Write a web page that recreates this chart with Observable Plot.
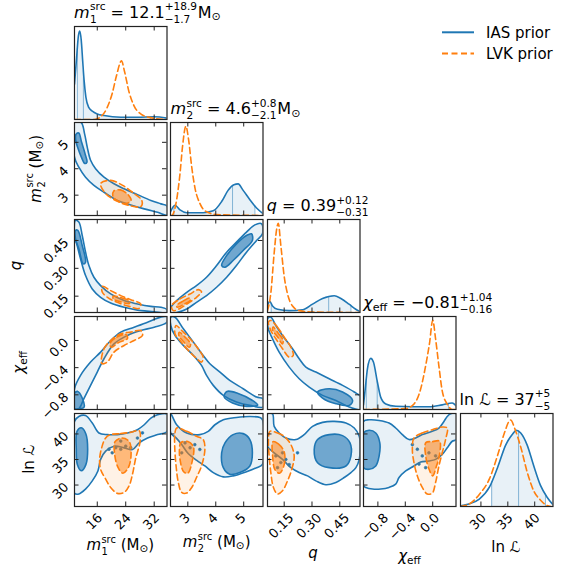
<!DOCTYPE html>
<html><head><meta charset="utf-8">
<script src="https://cdn.jsdelivr.net/npm/d3@7"></script>
<script src="https://cdn.jsdelivr.net/npm/@observablehq/plot@0.6"></script>
<style>
body{margin:0;background:#fff;}
#chart{position:relative;width:570px;height:571px;font-family:"DejaVu Sans",sans-serif;overflow:hidden;}
#chart svg{position:absolute;overflow:visible;background:transparent;}
</style></head><body><div id="chart"></div>
<script>
// ---------------- data ----------------
const params = ["m1", "m2", "q", "chi", "lnL"];
const xDomains = [[9.6, 35.6], [2.38, 5.69], [0.06, 0.559], [-1.01, 0.34], [26.2, 43.4]];
const yDomains = [null, [2.23, 5.75], [0.062, 0.563], [-1.016, 0.353], [25.8, 44.0]];
const tickValues = [[16, 24, 32], [3, 4, 5], [0.15, 0.30, 0.45], [-0.8, -0.4, 0.0], [30, 35, 40]];
const tickLabels = [["16", "24", "32"], ["3", "4", "5"], ["0.15", "0.30", "0.45"], ["−0.8", "−0.4", "0.0"], ["30", "35", "40"]];
const medians = ["12.1", "4.6", "0.39", "−0.81", "37"];
const errPlus = ["+18.9", "+0.8", "+0.12", "+1.04", "+5"];
const errMinus = ["−1.7", "−2.1", "−0.31", "−0.16", "−5"];
const quantiles = [[10.4, 12.1, 31.0], [2.5, 4.6, 5.4], [0.08, 0.39, 0.51], [-0.97, -0.81, 0.23], [32, 37, 42]];
const seriesNames = ["IAS prior", "LVK prior"];

// 1D marginal densities (relative height)
const m1Blue = [[9.6,0.38],[10.2,0.67],[10.7,0.90],[11.1,0.95],[11.5,0.85],[11.9,0.63],[12.3,0.42],[12.8,0.24],[13.6,0.13],[14.6,0.09],[16.0,0.06],[17.9,0.043],[22.6,0.025],[27.3,0.025],[32.0,0.03],[35.6,0.015]];
const m1Orange = [[9.6,0.0],[15.1,0.0],[17.0,0.03],[18.8,0.13],[20.2,0.28],[21.4,0.47],[22.8,0.63],[23.7,0.51],[24.9,0.30],[26.3,0.15],[28.2,0.06],[31.0,0.02],[35.6,0.0]];
const m2Blue = [[2.38,0.04],[2.54,0.11],[2.72,0.06],[2.96,0.03],[3.55,0.03],[3.91,0.05],[4.21,0.15],[4.44,0.27],[4.65,0.33],[4.80,0.34],[4.98,0.27],[5.22,0.17],[5.46,0.08],[5.69,0.02]];
const m2Orange = [[2.38,0.0],[2.42,0.0],[2.6,0.17],[2.72,0.45],[2.81,0.74],[2.93,0.96],[3.03,0.81],[3.14,0.52],[3.26,0.29],[3.43,0.13],[3.67,0.04],[4.03,0.01],[5.69,0.0]];
const qBlue = [[0.06,0.07],[0.072,0.12],[0.087,0.07],[0.114,0.035],[0.177,0.02],[0.249,0.03],[0.303,0.09],[0.357,0.15],[0.42,0.18],[0.456,0.15],[0.50,0.09],[0.536,0.035],[0.559,0.01]];
const qOrange = [[0.06,0.02],[0.078,0.21],[0.096,0.64],[0.109,0.89],[0.118,0.96],[0.132,0.72],[0.15,0.39],[0.168,0.20],[0.195,0.07],[0.231,0.02],[0.30,0.005],[0.559,0.0]];
const chiBlue = [[-1.01,0.05],[-0.985,0.22],[-0.952,0.44],[-0.904,0.55],[-0.865,0.51],[-0.806,0.29],[-0.758,0.13],[-0.685,0.06],[-0.54,0.035],[-0.297,0.03],[-0.054,0.03],[0.139,0.05],[0.285,0.07],[0.34,0.04]];
const chiOrange = [[-1.01,0.0],[-0.395,0.01],[-0.272,0.06],[-0.176,0.22],[-0.103,0.47],[-0.045,0.72],[0.0,0.96],[0.042,0.76],[0.09,0.47],[0.139,0.20],[0.21,0.06],[0.285,0.0],[0.34,0.0]];
const lnLBlue = [[26.2,0.005],[26.48,0.01],[27.9,0.03],[29.7,0.08],[31.6,0.21],[33.1,0.42],[34.6,0.66],[35.9,0.78],[36.6,0.82],[37.4,0.79],[38.6,0.66],[39.8,0.44],[41.05,0.23],[42.3,0.10],[43.4,0.02]];
const lnLOrange = [[26.2,0.0],[27.9,0.03],[29.7,0.13],[31.6,0.30],[33.1,0.55],[34.3,0.78],[35.5,0.93],[36.4,0.82],[37.4,0.64],[38.6,0.37],[39.8,0.17],[41.05,0.07],[42.3,0.01],[43.0,0.0]];

// 2D credible contours (outer = 90%, inner = 50%), [x, y] in data units
const ias_m2_m1_outer = [[9.6,5.75],[11.48,5.75],[12.42,5.33],[13.18,4.82],[14.12,4.32],[15.53,4.0],[17.89,3.68],[20.71,3.43],[23.54,3.24],[27.3,3.02],[31.07,2.80],[33.9,2.67],[35.6,2.59],[35.6,2.25],[32.95,2.35],[29.19,2.48],[25.42,2.63],[21.65,2.80],[17.89,3.11],[15.06,3.37],[12.71,3.68],[10.82,4.06],[9.6,4.44]];
const ias_m2_m1_inner = [[10.0,5.3],[10.8,5.35],[11.6,5.0],[12.6,4.55],[13.1,4.25],[12.5,4.2],[11.5,4.45],[10.5,4.8],[9.9,5.1]];
const lvk_m2_m1_outer = [[16.94,3.44],[19.77,3.56],[23.16,3.37],[25.98,3.10],[28.53,2.80],[28.24,2.57],[24.85,2.61],[21.18,2.80],[18.36,3.06]];
const lvk_m2_m1_inner = [[20.6,3.15],[22.5,3.2],[24.8,3.0],[25.5,2.8],[24.0,2.68],[21.5,2.8],[20.4,2.95]];

const ias_q_m1_outer = [[9.88,0.558],[10.82,0.549],[11.77,0.477],[12.71,0.387],[13.65,0.315],[15.06,0.252],[16.94,0.207],[19.77,0.162],[23.54,0.126],[27.3,0.108],[31.07,0.095],[33.9,0.09],[35.6,0.077],[35.6,0.063],[32.0,0.066],[27.3,0.075],[23.54,0.09],[19.77,0.113],[16.94,0.144],[14.59,0.189],[12.71,0.261],[11.3,0.351],[10.35,0.423],[9.6,0.477]];
const ias_q_m1_inner = [[9.88,0.504],[10.54,0.504],[11.77,0.423],[12.71,0.333],[12.05,0.324],[10.82,0.405],[9.88,0.459]];
const lvk_q_m1_outer = [[17.42,0.203],[19.77,0.18],[22.59,0.153],[25.42,0.131],[28.24,0.108],[27.77,0.084],[24.95,0.095],[22.12,0.113],[19.3,0.138],[17.42,0.171]];
const lvk_q_m1_inner = [[20.5,0.15],[23.0,0.14],[25.0,0.125],[25.0,0.11],[22.5,0.12],[20.5,0.135]];

const ias_q_m2_outer = [[2.36,0.081],[2.6,0.126],[2.96,0.171],[3.31,0.207],[3.67,0.252],[4.03,0.315],[4.39,0.387],[4.74,0.441],[5.1,0.495],[5.4,0.534],[5.64,0.54],[5.67,0.486],[5.46,0.45],[5.1,0.387],[4.74,0.315],[4.39,0.252],[4.03,0.198],[3.67,0.153],[3.31,0.117],[2.96,0.081],[2.6,0.062],[2.38,0.062]];
const ias_q_m2_inner = [[4.21,0.315],[4.39,0.369],[4.74,0.432],[5.1,0.477],[5.28,0.486],[5.31,0.45],[4.98,0.396],[4.62,0.342],[4.33,0.306]];
const lvk_q_m2_outer = [[2.42,0.099],[2.72,0.135],[3.08,0.162],[3.37,0.185],[3.49,0.174],[3.31,0.144],[3.02,0.113],[2.72,0.084],[2.48,0.072]];
const lvk_q_m2_inner = [[2.6,0.1],[2.85,0.125],[3.05,0.14],[3.1,0.13],[2.85,0.105],[2.62,0.09]];

const ias_chi_m1_outer = [[9.6,-0.71],[11.3,-0.514],[14.12,-0.318],[16.94,-0.171],[19.77,0.0],[22.59,0.123],[26.36,0.196],[30.13,0.27],[32.95,0.329],[34.84,0.353],[35.6,0.353],[35.6,0.27],[32.0,0.196],[28.24,0.147],[24.48,0.074],[20.71,-0.049],[17.89,-0.269],[16.0,-0.465],[14.12,-0.661],[12.24,-0.857],[10.82,-1.004],[9.6,-1.004]];
const ias_chi_m1_inner = [[9.6,-0.78],[10.5,-0.75],[11.8,-0.85],[12.3,-0.98],[11.0,-1.004],[9.6,-1.004]];
const lvk_chi_m1_outer = [[17.13,-0.318],[17.89,-0.122],[19.77,0.0],[22.59,0.098],[25.42,0.123],[28.24,0.147],[28.71,0.074],[26.36,0.0],[23.54,-0.073],[20.71,-0.171],[18.83,-0.318],[17.42,-0.343]];
const lvk_chi_m1_inner = [[19.5,-0.05],[21.5,0.05],[24,0.09],[24.5,0.03],[22,-0.03],[20,-0.1]];

const ias_chi_m2_outer = [[2.39,0.343],[2.54,0.343],[2.84,0.172],[3.2,-0.024],[3.55,-0.22],[3.79,-0.343],[4.15,-0.465],[4.5,-0.588],[4.98,-0.71],[5.46,-0.833],[5.69,-0.857],[5.69,-0.98],[5.22,-0.955],[4.74,-0.906],[4.27,-0.808],[3.91,-0.661],[3.67,-0.514],[3.49,-0.367],[3.2,-0.22],[2.84,-0.073],[2.54,0.074],[2.39,0.221]];
const ias_chi_m2_inner = [[4.4,-0.75],[4.8,-0.78],[5.3,-0.88],[5.5,-0.95],[5.1,-0.97],[4.6,-0.92],[4.3,-0.83]];
const lvk_chi_m2_outer = [[2.58,0.221],[2.78,0.147],[3.08,0.025],[3.37,-0.122],[3.55,-0.245],[3.49,-0.318],[3.26,-0.245],[2.96,-0.122],[2.72,0.0],[2.54,0.098]];
const lvk_chi_m2_inner = [[2.7,0.12],[2.9,0.05],[3.1,-0.05],[3.05,-0.1],[2.85,-0.02],[2.68,0.07]];

const ias_chi_q_outer = [[0.078,0.343],[0.105,0.221],[0.141,0.074],[0.195,-0.122],[0.231,-0.269],[0.267,-0.392],[0.321,-0.465],[0.393,-0.563],[0.465,-0.661],[0.528,-0.759],[0.564,-0.833],[0.564,-1.014],[0.501,-0.98],[0.429,-0.882],[0.357,-0.808],[0.285,-0.686],[0.231,-0.563],[0.177,-0.392],[0.123,-0.171],[0.087,0.025],[0.064,0.172],[0.06,0.319]];
const ias_chi_q_inner = [[0.33,-0.759],[0.393,-0.71],[0.465,-0.759],[0.519,-0.882],[0.501,-0.955],[0.429,-0.931],[0.357,-0.847]];
const lvk_chi_q_outer = [[0.078,0.294],[0.114,0.196],[0.15,0.049],[0.186,-0.098],[0.199,-0.22],[0.177,-0.245],[0.141,-0.122],[0.105,0.025],[0.078,0.147],[0.065,0.27]];
const lvk_chi_q_inner = [[0.09,0.2],[0.12,0.1],[0.145,0.0],[0.14,-0.05],[0.115,0.05],[0.088,0.15]];

const ias_lnL_m1_outer = [[9.6,42.45],[10.82,43.42],[12.7,43.6],[14.6,42.12],[16.47,40.18],[18.83,39.87],[21.65,39.87],[24.48,40.18],[27.3,40.83],[29.2,41.8],[31.07,43.1],[32.95,43.74],[35.6,43.87],[35.6,40.5],[32.95,39.87],[30.13,39.22],[27.77,38.25],[25.9,36.96],[23.54,37.28],[20.71,37.6],[18.36,36.64],[16.94,35.02],[16.18,32.76],[14.6,30.82],[12.7,29.21],[10.82,28.24],[9.6,28.4]];
const ias_lnL_m1_inner = [[10.3,40.5],[11.5,41.2],[12.8,40],[13.3,37],[12.8,34],[11.5,32.8],[10.4,34],[10.1,37]];
const lvk_lnL_m1_outer = [[19.77,39.87],[22.59,40.06],[25.42,40.32],[27.77,40.64],[28.05,38.57],[26.83,35.34],[25.9,32.12],[24.95,29.85],[23.54,28.56],[21.65,28.37],[19.77,29.53],[18.36,31.15],[16.94,33.08],[16.66,35.02],[17.23,37.28],[18.36,39.22]];
const lvk_lnL_m1_inner = [[21,38.5],[23,39.2],[25,38.5],[25.5,36],[24.8,33.5],[23.2,32.3],[21.8,33.5],[20.9,36]];

const ias_lnL_m2_outer = [[2.39,43.87],[2.6,41.8],[2.96,40.18],[3.43,39.87],[3.73,40.51],[3.97,41.8],[4.27,42.77],[4.74,43.22],[5.22,43.42],[5.58,43.22],[5.67,42.77],[5.67,34.06],[5.46,33.4],[5.1,32.62],[4.62,31.79],[4.27,31.6],[3.91,32.43],[3.61,33.73],[3.32,34.83],[3.02,36.11],[2.78,37.93],[2.58,39.22],[2.39,40.18]];
const ias_lnL_m2_inner = [[4.21,36.31],[4.33,38.25],[4.62,39.87],[4.98,40.06],[5.22,38.9],[5.31,36.31],[5.22,33.73],[4.86,32.44],[4.5,32.11],[4.27,33.4]];
const lvk_lnL_m2_outer = [[2.6,41.16],[2.96,40.51],[3.31,39.54],[3.55,38.9],[3.61,36.96],[3.49,33.73],[3.31,31.47],[3.14,29.53],[2.96,28.43],[2.78,28.56],[2.66,30.5],[2.58,33.73],[2.53,37.6],[2.54,40.19]];
const lvk_lnL_m2_inner = [[2.75,38.3],[3.0,38.5],[3.2,37.5],[3.15,34.5],[3.0,32.3],[2.85,32.6],[2.72,35],[2.7,37]];

const ias_lnL_q_outer = [[0.06,43.94],[0.087,43.94],[0.096,41.48],[0.123,40.19],[0.159,39.22],[0.213,38.9],[0.258,39.87],[0.303,41.48],[0.357,42.26],[0.42,42.45],[0.483,42.13],[0.528,41.16],[0.555,39.54],[0.56,36.96],[0.555,35.02],[0.537,33.4],[0.51,32.44],[0.474,31.47],[0.429,30.5],[0.375,30.05],[0.321,30.82],[0.276,31.79],[0.231,32.44],[0.186,33.4],[0.141,35.02],[0.096,36.31],[0.06,37.6]];
const ias_lnL_q_inner = [[0.312,36.96],[0.33,38.9],[0.393,39.87],[0.465,39.67],[0.505,38.25],[0.51,35.67],[0.483,33.73],[0.393,33.4],[0.33,34.37]];
const lvk_lnL_q_outer = [[0.073,40.51],[0.114,40.19],[0.15,39.54],[0.186,37.93],[0.204,35.67],[0.191,33.08],[0.168,30.82],[0.141,28.88],[0.114,28.24],[0.092,29.53],[0.078,32.44],[0.069,35.67],[0.065,38.9]];
const lvk_lnL_q_inner = [[0.09,38.5],[0.12,38.0],[0.15,36.5],[0.15,34],[0.125,32.3],[0.1,33],[0.088,35.5]];

const ias_lnL_chi_outer = [[-1.01,42.45],[-0.928,42.77],[-0.782,42.64],[-0.637,42.13],[-0.54,41.16],[-0.443,39.87],[-0.346,38.9],[-0.249,39.22],[-0.152,39.87],[-0.006,40.51],[0.091,41.16],[0.164,42.45],[0.212,43.42],[0.261,43.94],[0.343,43.94],[0.343,38.9],[0.285,38.57],[0.212,37.28],[0.139,35.99],[0.042,35.02],[-0.055,34.7],[-0.176,34.5],[-0.273,33.73],[-0.394,32.76],[-0.491,31.47],[-0.54,30.18],[-0.637,29.53],[-0.758,29.21],[-0.879,29.21],[-0.976,29.53],[-1.01,29.85]];
const ias_lnL_chi_inner = [[-1.01,40.19],[-0.928,40.71],[-0.831,40.19],[-0.772,38.25],[-0.782,35.67],[-0.831,33.73],[-0.928,33.08],[-1.01,33.4]];
const lvk_lnL_chi_outer = [[-0.273,39.22],[-0.152,40.19],[-0.006,40.83],[0.139,41.35],[0.212,41.16],[0.188,38.9],[0.139,36.31],[0.091,33.73],[0.042,30.5],[-0.006,28.43],[-0.079,28.24],[-0.152,29.53],[-0.224,31.79],[-0.273,34.37],[-0.297,36.96]];
const lvk_lnL_chi_inner = [[-0.1,38.3],[0.0,38.5],[0.1,38.6],[0.1,36],[0.05,33.5],[0.0,31.8],[-0.05,33],[-0.1,35.5]];

// isolated IAS contour islands (small specks) in the ln L panels
const ias_lnL_m1_specks = [[19.3,37.0],[21.2,37.3],[22.6,37.0],[24.0,37.6],[25.4,37.3],[27.3,39.2],[28.7,40.2],[22.6,38.6],[20.2,36.3]];
const ias_lnL_m2_specks = [[2.9,38.25],[3.08,37.3],[3.25,37.9],[3.43,36.96],[2.78,36.3]];
const ias_lnL_q_specks = [[0.105,35.7],[0.132,34.4],[0.159,35.0],[0.114,33.4],[0.141,36.3],[0.222,36.3],[0.177,34.0]];
const ias_lnL_chi_specks = [[-0.297,37.9],[-0.224,37.0],[-0.152,35.7],[-0.055,36.3],[0.042,35.7],[-0.2,34.1],[-0.103,33.4]];

// ---------------- lookup tables built from the arrays ----------------
const densities = [[m1Blue, m1Orange], [m2Blue, m2Orange], [qBlue, qOrange], [chiBlue, chiOrange], [lnLBlue, lnLOrange]];
const contours = {
  "1,0": [ias_m2_m1_outer, ias_m2_m1_inner, lvk_m2_m1_outer, lvk_m2_m1_inner],
  "2,0": [ias_q_m1_outer, ias_q_m1_inner, lvk_q_m1_outer, lvk_q_m1_inner],
  "2,1": [ias_q_m2_outer, ias_q_m2_inner, lvk_q_m2_outer, lvk_q_m2_inner],
  "3,0": [ias_chi_m1_outer, ias_chi_m1_inner, lvk_chi_m1_outer, lvk_chi_m1_inner],
  "3,1": [ias_chi_m2_outer, ias_chi_m2_inner, lvk_chi_m2_outer, lvk_chi_m2_inner],
  "3,2": [ias_chi_q_outer, ias_chi_q_inner, lvk_chi_q_outer, lvk_chi_q_inner],
  "4,0": [ias_lnL_m1_outer, ias_lnL_m1_inner, lvk_lnL_m1_outer, lvk_lnL_m1_inner, ias_lnL_m1_specks],
  "4,1": [ias_lnL_m2_outer, ias_lnL_m2_inner, lvk_lnL_m2_outer, lvk_lnL_m2_inner, ias_lnL_m2_specks],
  "4,2": [ias_lnL_q_outer, ias_lnL_q_inner, lvk_lnL_q_outer, lvk_lnL_q_inner, ias_lnL_q_specks],
  "4,3": [ias_lnL_chi_outer, ias_lnL_chi_inner, lvk_lnL_chi_outer, lvk_lnL_chi_inner, ias_lnL_chi_specks]
};

// ---------------- layout / style ----------------
const BLUE = "#1f77b4", ORANGE = "#ff7f0e", FRAME = "#222";
const FONT = "DejaVu Sans, sans-serif";
const W = 92.5, H = 93, TL = 4.5, TICKFS = 13;
const colX = j => 74 + 96.4 * j;
const rowY = i => 25.5 + 96.8 * i;
const DASH = "6,3.5";
const chart = document.getElementById("chart");

function interp(series, x) {
  for (let k = 1; k < series.length; k++) {
    const [x0, y0] = series[k - 1], [x1, y1] = series[k];
    if (x >= x0 && x <= x1) return y0 + (y1 - y0) * (x - x0) / (x1 - x0);
  }
  return 0;
}
function estWidth(s, fs) {
  let w = 0;
  for (const c of s) w += c === "." ? 0.318 : c === "−" ? 0.838 : 0.636;
  return w * fs;
}

const acc = {x: d => d[0], y: d => d[1]};
function contourMarks(polys) {
  const [io, ii, lo, li, specks] = polys;
  const o = {...acc, curve: "catmull-rom-closed", clip: true};
  const marks = [
    Plot.line(io, {...o, fill: BLUE, fillOpacity: 0.1, stroke: "none"}),
    Plot.line(ii, {...o, fill: BLUE, fillOpacity: 0.6, stroke: "none"}),
    Plot.line(io, {...o, stroke: BLUE, strokeWidth: 1.6}),
    Plot.line(ii, {...o, stroke: BLUE, strokeWidth: 1.6})
  ];
  if (specks) marks.push(Plot.dot(specks, {...acc, r: 1.4, fill: BLUE, stroke: BLUE, strokeWidth: 0.6, clip: true}));
  marks.push(
    Plot.line(lo, {...o, fill: ORANGE, fillOpacity: 0.1, stroke: "none"}),
    Plot.line(li, {...o, fill: ORANGE, fillOpacity: 0.5, stroke: "none"}),
    Plot.line(lo, {...o, stroke: ORANGE, strokeWidth: 1.6, strokeDasharray: DASH}),
    Plot.line(li, {...o, stroke: ORANGE, strokeWidth: 1.6, strokeDasharray: DASH})
  );
  return marks;
}

for (let i = 0; i < 5; i++) {
  for (let j = 0; j <= i; j++) {
    const xd = xDomains[j];
    const yd = i === j ? [0, 1] : yDomains[i];
    const yr = yd[1] - yd[0], xr = xd[1] - xd[0];
    const marks = [];
    if (i === j) {
      const [blue, orange] = densities[j];
      const [lo, , hi] = quantiles[j];
      const band = [[lo, interp(blue, lo)], ...blue.filter(d => d[0] > lo && d[0] < hi), [hi, interp(blue, hi)]];
      marks.push(Plot.areaY(band, {...acc, fill: BLUE, fillOpacity: 0.1, curve: "monotone-x", clip: true}));
      marks.push(Plot.ruleX(quantiles[j], {x: d => d, y1: () => 0, y2: d => interp(blue, d), stroke: BLUE, strokeOpacity: 0.5, strokeWidth: 1, clip: true}));
      marks.push(Plot.line(blue, {...acc, stroke: BLUE, strokeWidth: 1.6, curve: "monotone-x", clip: true}));
      marks.push(Plot.line(orange, {...acc, stroke: ORANGE, strokeWidth: 1.6, strokeDasharray: DASH, curve: "monotone-x", clip: true}));
    } else {
      marks.push(...contourMarks(contours[i + "," + j]));
    }
    // inward ticks
    const tx = tickValues[j];
    marks.push(Plot.ruleX(tx, {x: d => d, y1: () => yd[0], y2: () => yd[0] + yr * TL / H, stroke: FRAME, strokeWidth: 1}));
    marks.push(Plot.ruleX(tx, {x: d => d, y1: () => yd[1], y2: () => yd[1] - yr * TL / H, stroke: FRAME, strokeWidth: 1}));
    if (i !== j) {
      const ty = tickValues[i];
      marks.push(Plot.ruleY(ty, {y: d => d, x1: () => xd[0], x2: () => xd[0] + xr * TL / W, stroke: FRAME, strokeWidth: 1}));
      marks.push(Plot.ruleY(ty, {y: d => d, x1: () => xd[1], x2: () => xd[1] - xr * TL / W, stroke: FRAME, strokeWidth: 1}));
    }
    // tick labels
    if (i === 4) {
      tx.forEach((t, k) => {
        const lab = tickLabels[j][k];
        const half = (estWidth(lab, TICKFS) + 12) * 0.354;
        marks.push(Plot.text([t], {x: d => d, text: () => lab, frameAnchor: "bottom", rotate: -45, textAnchor: "middle", dy: 8 + half, fontSize: TICKFS, fill: "black"}));
      });
    }
    if (j === 0 && i > 0) {
      marks.push(Plot.text(tickValues[i], {y: d => d, text: (d, k) => tickLabels[i][k], frameAnchor: "left", dx: -8, rotate: -45, textAnchor: "end", fontSize: TICKFS, fill: "black"}));
    }
    marks.push(Plot.frame({stroke: FRAME, strokeWidth: 1.2}));

    const svg = Plot.plot({
      width: W, height: H, margin: 0,
      x: {domain: xd, axis: null},
      y: {domain: yd, axis: null},
      style: {fontFamily: FONT, background: "transparent", overflow: "visible"},
      marks
    });
    svg.style.position = "absolute";
    svg.style.left = colX(j) + "px";
    svg.style.top = rowY(i) + "px";
    svg.style.overflow = "visible";
    chart.appendChild(svg);
  }
}

// ---------------- text overlay (titles, labels, legend) ----------------
const overlay = d3.select(chart).append("svg")
  .attr("width", 570).attr("height", 571)
  .style("left", "0px").style("top", "0px").style("pointer-events", "none");

const SCRIPT = 0.66, SUP = -0.46, SUB = 0.32;
// one <text> per formula; each piece is a tspan placed after measuring the previous ones
function addPiece(t, str, x, y, size, italic) {
  const s = t.append("tspan").attr("x", x).attr("y", y).attr("font-size", size)
    .text(str.replace(/ /g, "\u00a0"));
  if (italic) s.attr("font-style", "italic");
  return s.node().getComputedTextLength();
}
function rich(t, segs, fs) {
  let x = 0;
  for (const s of segs) {
    if (s.stack) {
      const w1 = addPiece(t, s.stack[0], x, (s.up || SUP) * fs, SCRIPT * fs, false);
      const w2 = addPiece(t, s.stack[1], x, SUB * fs, SCRIPT * fs, false);
      x += Math.max(w1, w2) + (s.sp || 0) * fs;
    } else {
      const w = addPiece(t, s.t, x, (s.dy || 0) * fs, (s.scale || 1) * fs, s.it);
      x += w + (s.sp || 0) * fs;
    }
  }
  return x;
}
function richAt(segs, fs, x, y, anchor, rot) {
  const outer = overlay.append("g").attr("transform", `translate(${x},${y})` + (rot ? ` rotate(${rot})` : ""));
  const inner = outer.append("g");
  const t = inner.append("text").attr("font-family", FONT).attr("font-size", fs).attr("fill", "black");
  const w = rich(t, segs, fs);
  if (anchor === "middle") inner.attr("transform", `translate(${-w / 2},0)`);
  return w;
}

const symbolSegs = [
  () => [{t: "m", it: true, sp: 0.03}, {stack: ["src", "1"], up: -0.48}],
  () => [{t: "m", it: true, sp: 0.03}, {stack: ["src", "2"], up: -0.48}],
  () => [{t: "q", it: true}],
  () => [{t: "χ", it: true}, {t: "eff", scale: 0.7, dy: 0.22}],
  () => [{t: "ln "}, {t: "ℒ", it: false}]
];
const unitSegs = [
  [{t: "M"}, {t: "⊙", scale: 0.7, dy: 0.15}],
  [{t: "M"}, {t: "⊙", scale: 0.7, dy: 0.15}],
  [], [], []
];

// titles over the diagonal
for (let k = 0; k < 5; k++) {
  const segs = [...symbolSegs[k](), {t: " = " + medians[k]}, {stack: [errPlus[k], errMinus[k]], sp: 0.05}, ...unitSegs[k]];
  richAt(segs, 16, colX(k), rowY(k) - 8, "start");
}

// bottom axis labels
const bottomBaselines = [550, 547, 558, 561, 551.5];
for (let k = 0; k < 5; k++) {
  const segs = [...symbolSegs[k]()];
  if (unitSegs[k].length) segs.push({t: " (M"}, {t: "⊙", scale: 0.7, dy: 0.15}, {t: ")"});
  richAt(segs, 15, colX(k) + W / 2, bottomBaselines[k], "middle");
}
// left axis labels (rows 1..4)
const leftBaselines = [null, 40.5, 20.5, 24, 33.5];
for (let k = 1; k < 5; k++) {
  const segs = [...symbolSegs[k]()];
  if (unitSegs[k].length) segs.push({t: " (M"}, {t: "⊙", scale: 0.7, dy: 0.15}, {t: ")"});
  richAt(segs, 15, leftBaselines[k], rowY(k) + H / 2, "middle", -90);
}

// legend
const legendY = [32.3, 53.5];
[BLUE, ORANGE].forEach((c, k) => {
  overlay.append("line").attr("x1", 442).attr("x2", 474).attr("y1", legendY[k]).attr("y2", legendY[k])
    .attr("stroke", c).attr("stroke-width", 2).attr("stroke-dasharray", k ? DASH : null);
  overlay.append("text").attr("x", 486).attr("y", legendY[k] + 5.3).attr("font-size", 15)
    .attr("font-family", FONT).attr("fill", "black").text(seriesNames[k]);
});
</script></body></html>
